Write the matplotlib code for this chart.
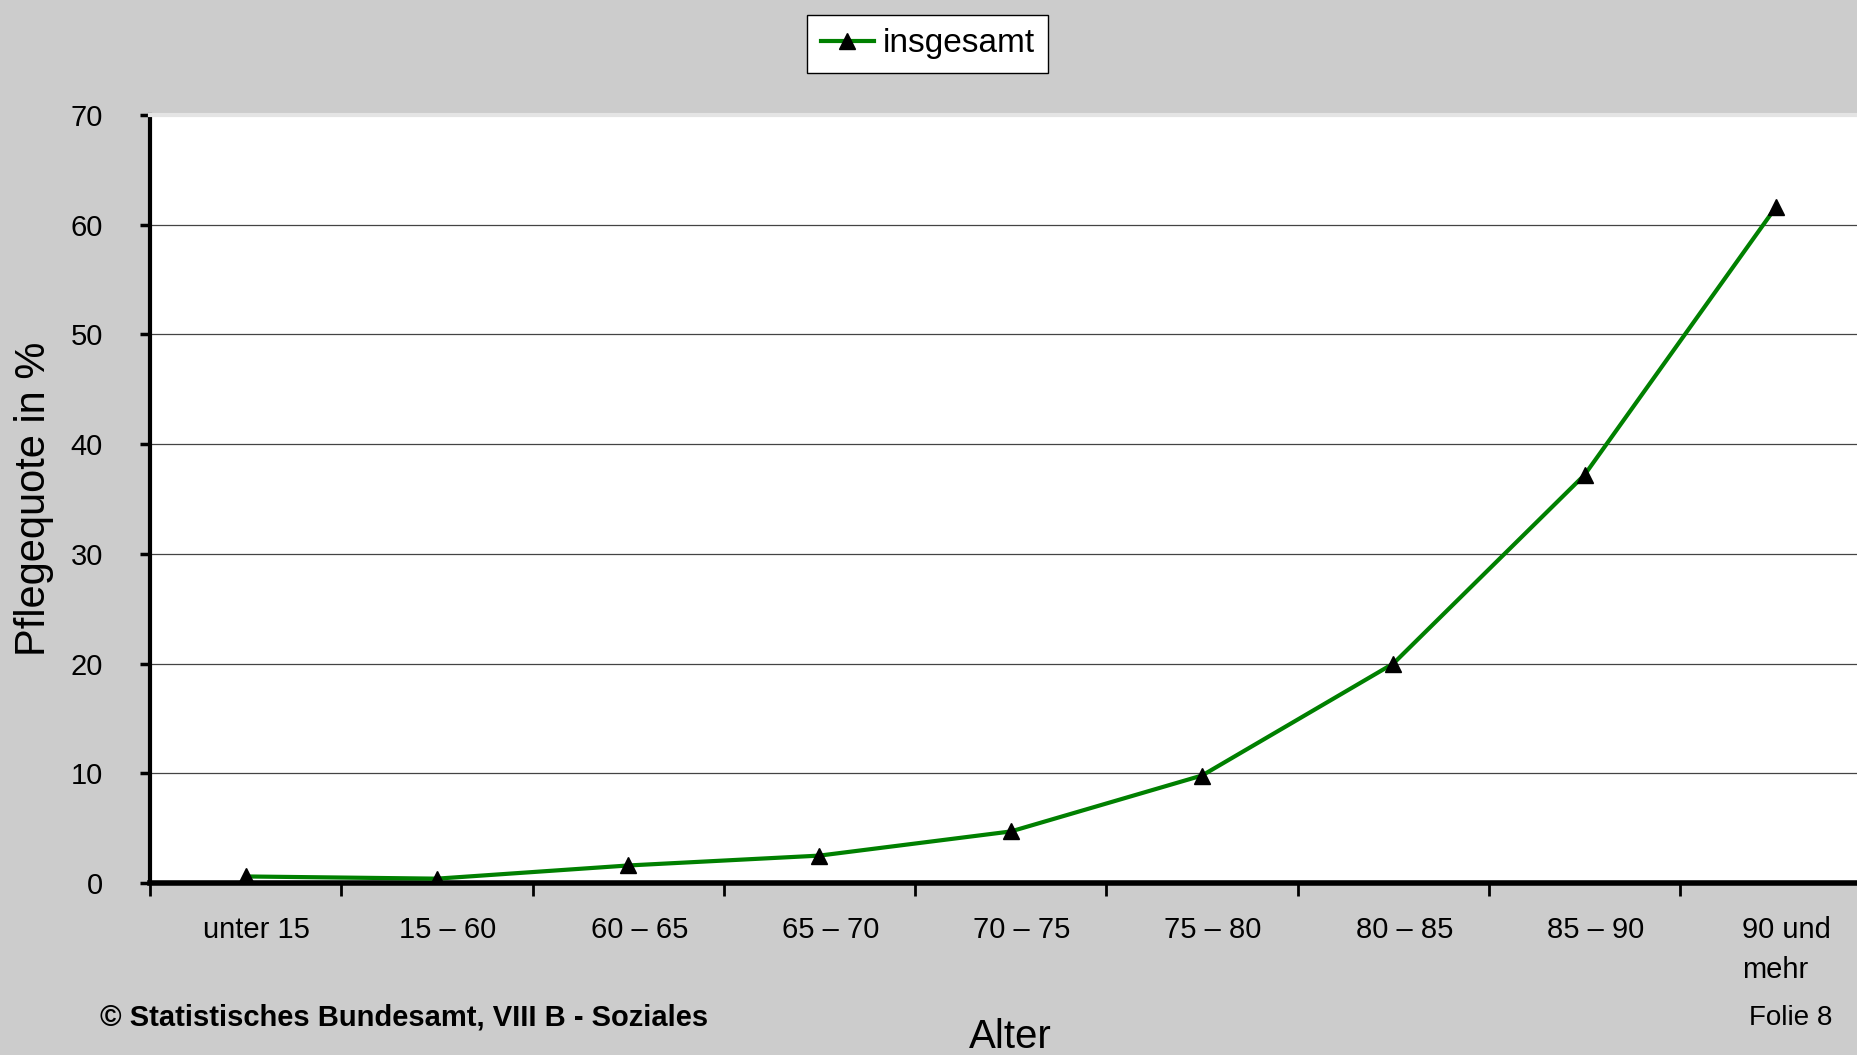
import numpy as np
import matplotlib.pyplot as plt
import matplotlib.transforms as mtransforms

# Altersgruppen und Pflegequote (insgesamt) in %
altersgruppen = ['unter 15', '15 – 60', '60 – 65', '65 – 70', '70 – 75',
                 '75 – 80', '80 – 85', '85 – 90', '90 und\nmehr']
pflegequote = [0.6, 0.4, 1.6, 2.5, 4.7, 9.8, 20.0, 37.2, 61.6]

narrow = ['Liberation Sans Narrow', 'Liberation Sans', 'DejaVu Sans']
regular = ['Liberation Sans', 'DejaVu Sans']

fig = plt.figure(figsize=(18.57, 10.55), dpi=100, facecolor='#cccccc')
ax = fig.add_axes([0.0808, 0.163, 0.927, 0.728])
ax.set_facecolor('white')

x = np.arange(len(altersgruppen)) + 0.5
ax.plot(x, pflegequote, color='#008000', linewidth=3.0, marker='^',
        markersize=11, markerfacecolor='black', markeredgecolor='black',
        label='insgesamt', zorder=3)

ax.set_xlim(0, len(altersgruppen))
ax.set_ylim(0, 70)

# y-Achse
ax.set_yticks(np.arange(0, 71, 10))
ax.yaxis.grid(True, color='#444444', linewidth=0.9)
ax.set_axisbelow(True)
ax.tick_params(axis='y', direction='out', length=7, width=2.5, pad=27,
               labelsize=21)
for lbl in ax.get_yticklabels():
    lbl.set_family(narrow)

# x-Achse: Beschriftung mittig, Striche an den Grenzen
ax.set_xticks(x)
ax.set_xticklabels(altersgruppen, family=narrow, fontsize=21,
                   linespacing=1.55, va='top')
ax.set_xticks(np.arange(0, len(altersgruppen) + 1), minor=True)
ax.tick_params(axis='x', which='major', length=0, pad=24)
ax.tick_params(axis='x', which='minor', direction='out', length=9, width=2)
shift = mtransforms.ScaledTranslation(0.11, 0, fig.dpi_scale_trans)
for lbl in ax.get_xticklabels():
    lbl.set_transform(lbl.get_transform() + shift)
    lbl.set_multialignment('left')

ax.spines['left'].set_linewidth(3)
ax.spines['bottom'].set_linewidth(4)
ax.spines['right'].set_visible(False)
ax.spines['top'].set_color('#e4e4e4')
ax.spines['top'].set_linewidth(3)

ax.set_ylabel('Pflegequote in %', family=regular, fontsize=30, labelpad=12)

leg = fig.legend(loc='center', bbox_to_anchor=(0.4995, 0.9585),
                 prop={'family': narrow, 'size': 24}, frameon=True,
                 fancybox=False, handlelength=1.6, handletextpad=0.25,
                 borderpad=0.4, borderaxespad=0, framealpha=1)
leg.get_frame().set_facecolor('white')
leg.get_frame().set_edgecolor('black')
leg.get_frame().set_linewidth(1.0)

fig.text(0.544, 0.017, 'Alter', family=narrow, fontsize=29, ha='center',
         va='center')
fig.text(0.054, 0.036, '© Statistisches Bundesamt, VIII B - Soziales',
         family=regular, fontsize=21, fontweight='bold', ha='left',
         va='center')
fig.text(0.987, 0.035, 'Folie 8', family=narrow, fontsize=20, ha='right',
         va='center')

fig.savefig('out.png', dpi=100, facecolor=fig.get_facecolor())
